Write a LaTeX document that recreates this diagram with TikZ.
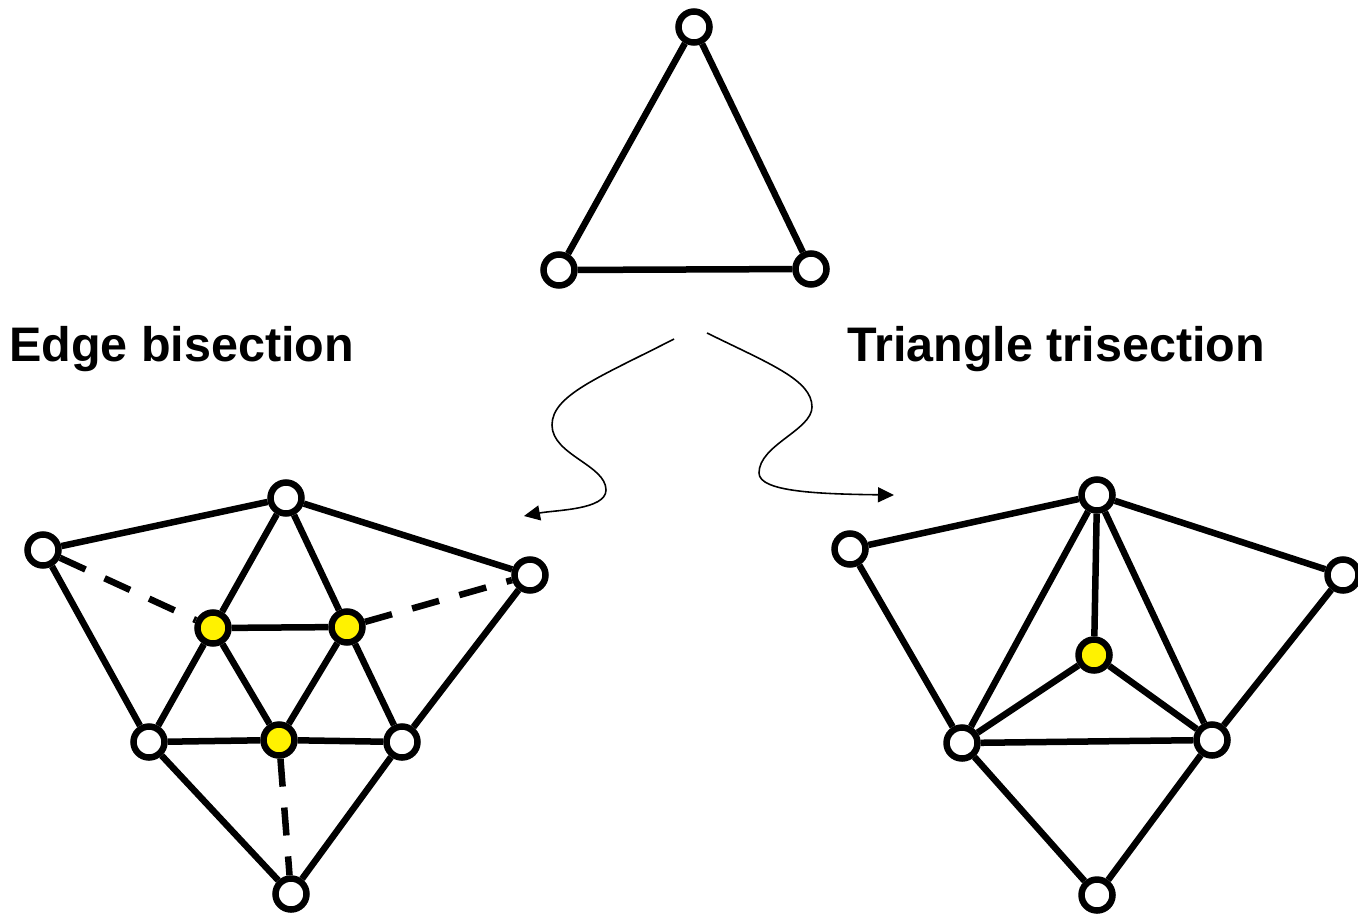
\documentclass[tikz,border=0pt]{standalone}
\usepackage{fontspec}
\setsansfont{Liberation Sans}
\usetikzlibrary{arrows.meta}

\begin{document}
\begin{tikzpicture}[
  x=0.02cm,y=-0.02cm,
  vert/.style={circle,draw=black,fill=white,line width=3.7pt,
               minimum size=6.2mm,inner sep=0pt},
  newv/.style={vert,fill=yellow},
  edge/.style={line width=3.7pt},
  split/.style={edge,dash pattern=on 5.6mm off 4.2mm},
  morph/.style={line width=0.9pt,-{Triangle[length=3.2mm,width=3mm]}},
  title/.style={font=\sffamily\bfseries\fontsize{27.6}{33}\selectfont,
                anchor=base west,inner sep=0pt}
]
\useasboundingbox (0,0) rectangle (1358,916);

% ==========  Original triangle  ==========
\node[vert] (t1) at (694, 27) {};
\node[vert] (t2) at (559,270) {};
\node[vert] (t3) at (811,269) {};
\draw[edge] (t1) -- (t2) -- (t3) -- (t1);

% ==========  Titles  ==========
\node[title] (bis) at (  9,361) {Edge bisection};
\node[title] (tri) at (847,361) {Triangle trisection};

% ==========  Refinement arrows  ==========
\coordinate (lfrom) at (674,339);
\coordinate (lto)   at (524,516);
\coordinate (rfrom) at (707,333);
\coordinate (rto)   at (894,495);
\draw[morph] (lfrom) .. controls (600,377) and (552,395) .. (552,425)
  .. controls (552,455) and (606,465) .. (606,490)
  .. controls (606,510) and (555,510) .. (lto);
\draw[morph] (rfrom) .. controls (770,364) and (812,380) .. (812,407)
  .. controls (812,430) and (759,445) .. (759,473)
  .. controls (759,492) and (820,494) .. (rto);

% ==========  Edge bisection mesh  ==========
\node[vert] (l1) at ( 43,550) {};
\node[vert] (l2) at (286,498) {};
\node[vert] (l3) at (530,575) {};
\node[vert] (l4) at (149,742) {};
\node[vert] (l5) at (402,742) {};
\node[vert] (l6) at (291,894) {};
\node[newv] (lm1) at (213,628) {};
\node[newv] (lm2) at (347,627) {};
\node[newv] (lm3) at (279,740) {};

\draw[edge] (l1) -- (l2) -- (l3);
\draw[edge] (l1) -- (l4) -- (l6) -- (l5) -- (l3);
\draw[edge] (l4) -- (lm3) -- (l5);
\draw[edge] (l2) -- (lm1) -- (l4);
\draw[edge] (l2) -- (lm2) -- (l5);
\draw[edge] (lm1) -- (lm2) -- (lm3) -- (lm1);
% dashed: new edges to the outer vertices
\draw[split] (l1) -- (lm1);
\draw[split] (lm2) -- (l3);
\draw[split] (lm3) -- (l6);

% ==========  Triangle trisection mesh  ==========
\node[vert] (r1) at ( 850,549) {};
\node[vert] (r2) at (1097,495) {};
\node[vert] (r3) at (1343,575) {};
\node[vert] (r4) at ( 962,743) {};
\node[vert] (r5) at (1212,740) {};
\node[vert] (r6) at (1097,895) {};
\node[newv] (rc) at (1094,655) {};

\draw[edge] (r1) -- (r2) -- (r3);
\draw[edge] (r1) -- (r4) -- (r6) -- (r5) -- (r3);
\draw[edge] (r4) -- (r5);
\draw[edge] (r2) -- (r4);
\draw[edge] (r2) -- (r5);
\draw[edge] (r2) -- (rc);
\draw[edge] (rc) -- (r4);
\draw[edge] (rc) -- (r5);

\end{tikzpicture}
\end{document}
